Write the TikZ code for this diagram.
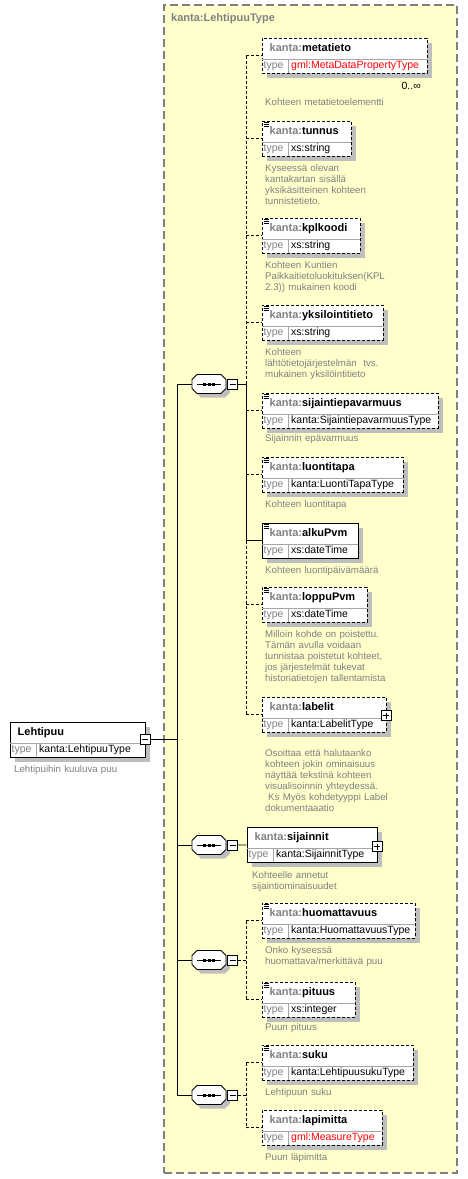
\documentclass[tikz,border=0pt]{standalone}
\usepackage{fontspec}
\setmainfont{Liberation Sans}
\usetikzlibrary{positioning}

\definecolor{xsdyellow}{RGB}{255,255,204}
\definecolor{xsdgray}{RGB}{128,128,128}
\definecolor{xsdshadow}{RGB}{190,190,190}

\newcommand{\kpre}{\textcolor{xsdgray}{kanta:}}

% element box: name, left, top, width, title, type, border style, doc icon
\newcommand{\xsdelem}[8]{%
  \fill[xsdshadow] (#2+5, #3+5) rectangle (#2+#4+5, #3+40);
  \node[elembox, #7, minimum width=#4pt] (#1) at (#2+#4/2, #3+17.5) {};
  \draw[sepline] (#2, #3+21) -- (#2+#4, #3+21);
  \draw[sepline] (#2+26, #3+21) -- (#2+26, #3+35);
  \node[titletext] (#1-title) at (#2+7.5, #3+11) {#5};
  \node[typelabel] (#1-tl) at (#2+1.5, #3+28) {type};
  \node[typetext] (#1-type) at (#2+29, #3+28) {#6};
  \ifnum#8=1
    \foreach \k in {1.5,3.5,5.5} \draw[line width=0.7pt] (#2+1.5, #3+\k) -- ++(5,0);
  \fi
}

% sequence compositor: name, centre y
\newcommand{\xsdseq}[2]{%
  \fill[xsdshadow, shift={(4,4)}] (197,#2-9.5) -- (221,#2-9.5) -- (226,#2-4.5) -- (226,#2+4.5)
    -- (221,#2+9.5) -- (197,#2+9.5) -- (192,#2+4.5) -- (192,#2-4.5) -- cycle;
  \draw[seqline] (197,#2-9.5) -- (221,#2-9.5) -- (226,#2-4.5) -- (226,#2+4.5)
    -- (221,#2+9.5) -- (197,#2+9.5) -- (192,#2+4.5) -- (192,#2-4.5) -- cycle;
  \node[seqnode] (#1) at (209, #2) {};
  \draw[line width=0.8pt] ([xshift=-12pt]#1.center) -- ([xshift=12pt]#1.center);
  \foreach \dx in {-4.5,0,4.5}
    \fill ([xshift=\dx pt]#1.center) +(-1.5,-1.5) rectangle +(1.5,1.5);
  \node[expander, minusbox, right=1pt of #1] (#1-x) {};
}

\begin{document}
\begin{tikzpicture}[x=1pt, y=-1pt,
  container/.style={rectangle, draw=xsdgray, fill=xsdyellow, line width=1.5pt,
                    dash pattern=on 8pt off 4pt, inner sep=0pt},
  elembox/.style={rectangle, draw, fill=white, line width=0.8pt, minimum height=35pt,
                  inner sep=0pt},
  optbox/.style={dash pattern=on 3pt off 2pt},
  reqbox/.style={solid},
  sepline/.style={xsdgray!70, line width=0.6pt},
  titletext/.style={anchor=west, inner sep=0pt, font=\bfseries\fontsize{11}{13}\selectfont,
                    text height=8pt, text depth=2.5pt},
  typelabel/.style={anchor=west, inner sep=0pt, text=xsdgray,
                    font=\fontsize{10.5}{12}\selectfont, text height=8pt, text depth=2.5pt},
  typetext/.style={typelabel, text=black},
  doctext/.style={anchor=north west, inner sep=0pt, align=left, text width=180pt,
                  text=xsdgray, font=\fontsize{9.7}{11}\selectfont},
  seqline/.style={draw, fill=white, line width=0.8pt},
  seqnode/.style={rectangle, minimum width=34pt, minimum height=19pt, inner sep=0pt},
  expander/.style={rectangle, draw, fill=white, line width=0.8pt, minimum size=10pt, inner sep=0pt},
  minusbox/.style={path picture={\draw[line width=0.8pt]
      ([xshift=2pt]path picture bounding box.west) -- ([xshift=-2pt]path picture bounding box.east);}},
  plusbox/.style={path picture={\draw[line width=0.8pt]
      ([xshift=2pt]path picture bounding box.west) -- ([xshift=-2pt]path picture bounding box.east)
      ([yshift=-2pt]path picture bounding box.north) -- ([yshift=2pt]path picture bounding box.south);}},
  optline/.style={line width=0.8pt, dash pattern=on 3pt off 2pt},
  reqline/.style={line width=0.8pt}
]
  \useasboundingbox (0,0) rectangle (468,1179);

  % complex type frame
  \node[container, minimum width=293pt, minimum height=1168pt] (lehtipuutype) at (310.5,589) {};
  \node[titletext, text=xsdgray] (lehtipuutype-title) at (171,19) {kanta:LehtipuuType};

  % root element
  \xsdelem{root}{10}{722}{135}{Lehtipuu}{kanta:LehtipuuType}{reqbox}{0}
  \node[expander, minusbox] (root-x) at (root.east) {};
  \node[doctext] (root-doc) at (14,765) {Lehtipuihin kuuluva puu};

  % first sequence
  \xsdseq{s1}{384}
  \xsdelem{metatieto}{262}{38}{165}{\kpre metatieto}{\textcolor{red}{gml:MetaDataPropertyType}}{optbox}{0}
  \node[typetext, anchor=east] (metatieto-occ) at (421,87) {0..∞};
  \node[doctext] (metatieto-doc) at (265,98) {Kohteen metatietoelementti};

  \xsdelem{tunnus}{262}{121}{89}{\kpre tunnus}{xs:string}{optbox}{1}
  \node[doctext] (tunnus-doc) at (265,164) {Kyseessä olevan\\kantakartan sisällä\\yksikäsitteinen kohteen\\tunnistetieto.};

  \xsdelem{kplkoodi}{262}{218}{98}{\kpre kplkoodi}{xs:string}{optbox}{1}
  \node[doctext] (kplkoodi-doc) at (265,261) {Kohteen Kuntien\\Paikkaitietoluokituksen(KPL\\2.3)) mukainen koodi};

  \xsdelem{yksilointitieto}{262}{305}{121}{\kpre yksilointitieto}{xs:string}{optbox}{1}
  \node[doctext] (yksilointitieto-doc) at (265,348) {Kohteen\\lähtötietojärjestelmän\ \ tvs.\\mukainen yksilöintitieto};

  \xsdelem{sijaintiepavarmuus}{262}{393}{176}{\kpre sijaintiepavarmuus}{kanta:SijaintiepavarmuusType}{optbox}{1}
  \node[doctext] (sijaintiepavarmuus-doc) at (265,434) {Sijainnin epävarmuus};

  \xsdelem{luontitapa}{262}{457}{141}{\kpre luontitapa}{kanta:LuontiTapaType}{optbox}{1}
  \node[doctext] (luontitapa-doc) at (265,500) {Kohteen luontitapa};

  \xsdelem{alkuPvm}{262}{523}{96}{\kpre alkuPvm}{xs:dateTime}{reqbox}{1}
  \node[doctext] (alkuPvm-doc) at (265,566) {Kohteen luontipäivämäärä};

  \xsdelem{loppuPvm}{262}{587}{105}{\kpre loppuPvm}{xs:dateTime}{optbox}{1}
  \node[doctext] (loppuPvm-doc) at (265,630) {Milloin kohde on poistettu.\\Tämän avulla voidaan\\tunnistaa poistetut kohteet,\\jos järjestelmät tukevat\\historiatietojen tallentamista};

  \xsdelem{labelit}{262}{697}{124}{\kpre labelit}{kanta:LabelitType}{optbox}{0}
  \node[expander, plusbox] (labelit-x) at ([yshift=-1pt]labelit.east) {};
  \node[doctext] (labelit-doc) at (265,749) {Osoittaa että halutaanko\\kohteen jokin ominaisuus\\näyttää tekstinä kohteen\\visualisoinnin yhteydessä.\\\hspace*{3pt}Ks Myös kohdetyyppi Label\\dokumentaaatio};

  % second sequence
  \xsdseq{s2}{845}
  \xsdelem{sijainnit}{247}{827}{130}{\kpre sijainnit}{kanta:SijainnitType}{reqbox}{0}
  \node[expander, plusbox] (sijainnit-x) at ([yshift=-2pt]sijainnit.east) {};
  \node[doctext] (sijainnit-doc) at (252,871) {Kohteelle annetut\\sijaintiominaisuudet};

  % third sequence
  \xsdseq{s3}{960}
  \xsdelem{huomattavuus}{262}{903}{153}{\kpre huomattavuus}{kanta:HuomattavuusType}{optbox}{1}
  \node[doctext] (huomattavuus-doc) at (265,946) {Onko kyseessä\\huomattava/merkittävä puu};
  \xsdelem{pituus}{262}{982}{93}{\kpre pituus}{xs:integer}{optbox}{1}
  \node[doctext] (pituus-doc) at (265,1023) {Puun pituus};

  % fourth sequence
  \xsdseq{s4}{1095}
  \xsdelem{suku}{262}{1045}{151}{\kpre suku}{kanta:LehtipuusukuType}{optbox}{1}
  \node[doctext] (suku-doc) at (265,1088) {Lehtipuun suku};
  \xsdelem{lapimitta}{262}{1110}{120}{\kpre lapimitta}{\textcolor{red}{gml:MeasureType}}{optbox}{0}
  \node[doctext] (lapimitta-doc) at (265,1153) {Puun läpimitta};

  % main trunk from the root
  \coordinate (tr) at (177,739.5);
  \draw[reqline] (root-x) -- (tr);
  \draw[reqline] (tr |- s1.west) -- (tr |- s4.west);
  \foreach \s in {s1,s2,s3,s4}
    \draw[reqline] (tr |- \s.west) -- (\s);

  % branches of the first sequence
  \coordinate (j1) at (246,384);
  \draw[reqline] (s1-x) -- (j1);
  \draw[optline] (j1 |- metatieto.west) -- (j1);
  \draw[reqline] (j1) -- (j1 |- alkuPvm.west);
  \draw[optline] (j1 |- alkuPvm.west) -- (j1 |- labelit.west);
  \foreach \e in {metatieto,tunnus,kplkoodi,yksilointitieto,sijaintiepavarmuus,luontitapa,loppuPvm,labelit}
    \draw[optline] (j1 |- \e.west) -- (\e);
  \draw[reqline] (j1 |- alkuPvm.west) -- (alkuPvm);

  % second sequence
  \draw[reqline] (s2-x) -- (sijainnit);

  % third and fourth sequences
  \coordinate (j3) at (246,960);
  \draw[optline] (s3-x) -- (j3);
  \draw[optline] (j3 |- huomattavuus.west) -- (j3 |- pituus.west);
  \foreach \e in {huomattavuus,pituus}
    \draw[optline] (j3 |- \e.west) -- (\e);

  \coordinate (j4) at (246,1095);
  \draw[optline] (s4-x) -- (j4);
  \draw[optline] (j4 |- suku.west) -- (j4 |- lapimitta.west);
  \foreach \e in {suku,lapimitta}
    \draw[optline] (j4 |- \e.west) -- (\e);
\end{tikzpicture}
\end{document}
